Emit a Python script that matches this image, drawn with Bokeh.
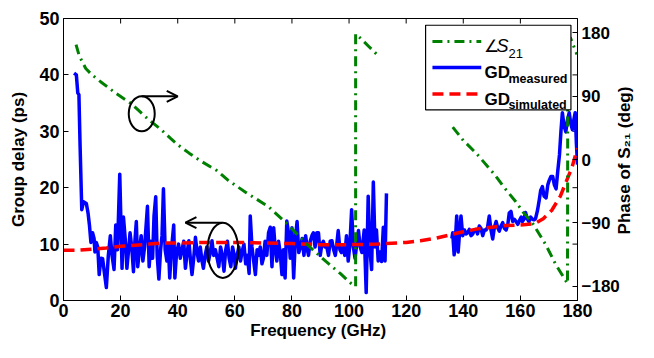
import math
from bokeh.plotting import figure
from bokeh.models import Range1d, LinearAxis, FixedTicker, Arrow, OpenHead
from bokeh.core.properties import value
from bokeh.embed import file_html
from bokeh.resources import INLINE

NaN = float("nan")

# ---------------- data ----------------
freq_meas = [3.7, 4.5, 5.0, 5.4, 5.8, 6.4, 7.0, 8.0, 8.6, 9.1, 9.6, 10.2, 10.7, 11.0, 11.5, 12.0, 12.5,
             13.1, 13.7, 14.3, 15.0, 15.7, 16.4, 17.0, 17.7, 18.3, 18.9, 19.7, 20.5, 21.0, 21.6, 22.2,
             22.8, 23.3, 23.9, 24.5, 25.0, 25.5, 26.0, 26.6, 27.2, 27.8, 28.4, 29.4, 30.0, 30.6, 31.2,
             31.7, 32.3, 32.8, 33.4, 34.0, 34.5, 35.0, 35.6, 36.2, 36.7, 37.2, 37.8, 38.6, 39.0, 39.6,
             40.3, 40.9, 41.5, 42.1, 42.7, 43.3, 43.9, 44.5, 45.0, 45.6, 46.2, 46.8, 47.3, 47.9, 48.5,
             49.0, 49.6, 50.2, 50.8, 51.4, 52.0, 52.6, 53.2, 53.8, 54.4, 55.0, 55.6, 56.2, 56.8, 57.4,
             58.0, 58.6, 59.2, 59.8, 60.2, 60.8, 61.4, 62.0, 62.5, 63.2, 63.8, 64.4, 65.0, 65.4, 66.0,
             66.6, 67.2, 67.8, 68.3, 68.9, 69.5, 70.0, 70.6, 71.2, 71.8, 72.4, 73.0, 73.6, 74.1, 74.7,
             75.3, 75.9, 76.5, 77.0, 77.6, 78.2, 78.8, 79.4, 80.0, 80.6, 81.2, 81.8, 82.4, 83.0, 83.6,
             84.2, 84.8, 85.4, 85.8, 86.4, 87.0, 87.5, 88.1, 88.7, 89.3, 89.9, 90.5, 91.0, 91.6, 92.2,
             92.8, 93.4, 94.0, 94.6, 95.2, 95.7, 96.2, 96.8, 97.3, 97.9, 98.5, 99.1, 99.7, 100.3, 100.9,
             101.5, 102.1, 102.7, 103.3, 103.9, 104.5, 105.3, 106.0, 106.7, 107.3, 107.9, 108.5, 109.1,
             109.6, 110.2, 110.8, 111.4, 112.0, 112.6, 113.1,
             NaN,
             136.0, 136.3, 136.8, 137.2, 137.7, 138.2, 138.7, 139.2, 139.8, 140.4, 141.0, 141.5, 142.1,
             142.7, 143.3, 143.9, 144.5, 145.0, 145.6, 146.2, 146.8, 147.4, 148.0, 148.5, 149.1, 149.7,
             150.3, 150.9, 151.5, 152.0, 152.6, 153.2, 153.8, 154.4, 155.0, 155.6, 156.1, 156.7, 157.3,
             157.9, 158.5, 159.1, 159.7, 160.3, 160.7, 161.3, 161.8, 162.4, 163.0, 163.6, 164.2, 164.8,
             165.3, 166.0, 166.6, 167.1, 167.7, 168.3, 169.0, 169.6, 170.1, 170.7, 171.3, 171.9, 172.5,
             173.1, 173.7, 174.2, 174.7, 175.3, 175.9, 176.5, 177.1, 177.6, 178.2, 178.7, 179.2, 179.6,
             180.0]
gd_meas = [40.3, 40.0, 36.8, 36.5, 27.6, 16.1, 17.5, 17.2, 15.5, 13.3, 10.3, 12.0, 11.0, 8.6, 10.3, 9.5, 4.6,
           7.5, 7.4, 5.0, 2.3, 8.0, 11.5, 8.0, 5.5, 13.4, 9.0, 22.4, 5.7, 14.8, 11.0, 5.7,
           9.0, 12.0, 9.5, 5.1, 10.5, 14.0, 6.0, 9.0, 11.5, 7.0, 9.5, 16.7, 6.0, 10.5, 7.5,
           15.0, 18.4, 8.0, 3.8, 9.0, 11.5, 19.8, 9.0, 7.0, 10.0, 4.0, 9.0, 13.4, 4.0, 8.5,
           10.0, 7.5, 9.0, 10.5, 5.7, 8.5, 10.6, 7.0, 4.6, 7.5, 11.2, 8.5, 7.0, 9.5, 7.0,
           5.7, 8.0, 9.5, 7.0, 8.5, 10.6, 8.0, 9.0, 7.5, 6.0, 9.5, 8.0, 5.2, 9.0, 10.5,
           7.5, 6.0, 9.5, 8.0, 5.7, 8.0, 9.5, 7.0, 8.6, 10.0, 6.5, 8.0, 4.8, 15.0, 9.5,
           7.0, 4.6, 9.0, 8.0, 9.5, 6.5, 7.5, 10.5, 8.0, 12.0, 13.0, 6.0, 12.9, 9.5, 7.0,
           10.5, 8.5, 4.6, 9.0, 4.0, 14.1, 12.0, 7.5, 12.9, 4.0, 11.0, 14.0, 8.5, 9.5, 11.0,
           8.0, 11.5, 9.0, 8.0, 10.5, 11.5, 12.0, 9.5, 12.0, 12.0, 8.0, 10.0, 10.5, 9.5, 9.5,
           8.0, 10.5, 10.6, 9.0, 8.0, 10.0, 12.4, 9.0, 8.5, 9.5, 8.0, 11.5, 7.0, 10.0, 16.1,
           9.5, 7.5, 10.0, 12.4, 9.5, 8.5, 12.5, 1.4, 18.5, 9.0, 5.5, 21.0, 9.5,
           12.5, 7.0, 8.6, 6.9, 13.0, 7.0, 19.0,
           NaN,
           11.0, 12.0, 8.1, 10.5, 15.0, 8.6, 12.0, 15.0, 11.5, 12.5, 11.8, 12.0, 12.6,
           11.5, 11.8, 12.5, 12.6, 11.8, 13.2, 12.8, 11.5, 12.5, 12.5, 13.0, 15.0, 12.5,
           10.9, 13.0, 14.0, 13.0, 12.3, 13.2, 13.8, 12.8, 12.5, 13.5, 15.5, 15.8, 14.0,
           14.4, 14.0, 13.5, 14.2, 14.8, 14.0, 14.5, 15.6, 14.5, 14.0, 14.8, 14.4, 14.3,
           14.5, 16.0, 17.8, 19.5, 20.2, 18.5, 18.2, 20.5, 21.3, 22.0, 22.0, 20.5, 19.8,
           23.0, 25.9, 30.0, 33.3, 31.0, 29.9, 32.0, 33.3, 31.5, 30.3, 32.0, 33.3, 28.0,
           24.1]

freq_sim = [0, 5, 10, 15, 20, 25, 30, 35, 40, 50, 60, 70, 80, 90, 100, 110, 120, 125, 130, 135, 140,
            145, 150, 155, 160, 165, 168, 171, 174, 176, 178, 180]
gd_sim = [8.9, 8.9, 9.1, 9.3, 9.6, 9.8, 10.0, 10.2, 10.2, 10.3, 10.3, 10.2, 10.1, 9.9, 9.9, 10.0, 10.3,
          10.6, 11.0, 11.6, 12.2, 12.7, 13.0, 13.3, 13.4, 13.6, 14.5, 16.0, 18.5, 21.0, 23.5, 27.0]

freq_phase = [4.4, 5.5, 7.8, 10.0, 13.1, 18.3, 23.5, 29.4, 34.0, 37.5, 40.0, 44.0, 48.0, 53.8, 57.8,
              64.0, 71.8, 78.0, 85.7, 92.0, 97.0, 101.3, 102.3, 102.3, 104.0, 107.0, 110.0,
              NaN,
              136.3, 140.0, 144.5, 150.9, 154.0, 158.4, 161.0, 164.2, 168.9, 172.4, 175.3, 176.5,
              176.6, 177.6, 179.8]
phase_s21 = [163, 147, 129, 120, 110, 94, 80, 58, 43, 30, 21, 9, -2, -16, -30,
             -47, -67, -90, -122, -145, -162, -178, -180, 178, 172, 160, 148,
             NaN,
             46, 27, 9, -21, -38, -60, -75, -90, -121, -149, -168, -176,
             176, 172, 149]

x_ticks = [0, 20, 40, 60, 80, 100, 120, 140, 160, 180]
gd_ticks = [0, 10, 20, 30, 40, 50]
phase_ticks = [-180, -90, 0, 90, 180]

# annotation marks (ellipses + arrows): centre x, centre y, width, height
ell_x = [27.4, 55.8]
ell_y = [33.1, 8.9]
ell_w = [9.1, 10.8]
ell_h = [6.2, 9.8]

# ---------------- styles ----------------
FONT = "Liberation Sans"
GREEN = "#008000"
BLUE = "#0000ff"
RED = "#ff0000"

p = figure(width=646, height=342, output_backend="svg", toolbar_location=None,
           x_range=Range1d(0, 180), y_range=Range1d(0, 50),
           min_border_left=63, min_border_right=67, min_border_top=18, min_border_bottom=41)
p.extra_y_ranges = {"phase": Range1d(-200, 200)}
p.xgrid.visible = False
p.ygrid.visible = False
p.outline_line_color = "black"
p.outline_line_width = 1
p.background_fill_color = "white"
p.border_fill_color = "white"

def style_axis(ax, size="18px"):
    ax.major_tick_in = 5
    ax.major_tick_out = 0
    ax.minor_tick_in = 0
    ax.minor_tick_out = 0
    ax.axis_line_color = "black"
    ax.major_tick_line_color = "black"
    ax.major_label_text_font = FONT
    ax.major_label_text_font_style = "bold"
    ax.major_label_text_font_size = size
    ax.major_label_text_color = "black"
    ax.axis_label_text_font = FONT
    ax.axis_label_text_font_style = "bold"
    ax.axis_label_text_font_size = "17px"
    ax.axis_label_text_color = "black"

p.xaxis.ticker = FixedTicker(ticks=x_ticks)
p.yaxis.ticker = FixedTicker(ticks=gd_ticks)
style_axis(p.xaxis[0])
style_axis(p.yaxis[0])
p.xaxis.axis_label = "Frequency  (GHz)"
p.yaxis.axis_label = "Group delay (ps)"
p.xaxis.major_label_standoff = 3
p.xaxis.axis_label_standoff = 1
p.yaxis.major_label_standoff = 4
p.yaxis.axis_label_standoff = 8

# right-hand title reads bottom to top; with a rotated label Bokeh starts the text at
# the anchor, so anchor it at the bottom of the axis and lead in with no-break spaces
RIGHT_TITLE = "Phase of S\u2082\u2081 (deg)"
right = LinearAxis(y_range_name="phase", ticker=FixedTicker(ticks=phase_ticks))
style_axis(right, "17px")
right.major_label_standoff = 4
right.axis_label_standoff = 2
try:
    right.axis_label_orientation = math.pi / 2
    right.axis_label_align = "start"
    right.axis_label = "\u00a0" * 14 + RIGHT_TITLE
except Exception:
    right.axis_label = RIGHT_TITLE
p.add_layout(right, "right")

# inward ticks on the top edge and mirrored left-axis ticks on the right edge
p.ray(x=x_ticks, y=[50] * len(x_ticks), length=5, length_units="screen", angle=-math.pi / 2,
      line_color="black", line_width=1)
p.ray(x=[180] * 4, y=gd_ticks[1:5], length=5, length_units="screen", angle=math.pi,
      line_color="black", line_width=1)

# ---------------- data lines ----------------
p.line(freq_meas, gd_meas, line_color=BLUE, line_width=3.5, line_join="round")
p.line(freq_sim, gd_sim, line_color=RED, line_width=3.5, line_dash="11 6")
p.line(freq_phase, phase_s21, y_range_name="phase", line_color=GREEN, line_width=3,
       line_dash="10 5 2 5")

# ---------------- annotations ----------------
p.ellipse(ell_x, ell_y, width=ell_w, height=ell_h, fill_color=None, line_color="black", line_width=2)
p.add_layout(Arrow(end=OpenHead(size=11, line_width=2, line_color="black"),
                   x_start=27.4, y_start=36.2, x_end=40.0, y_end=36.2,
                   line_width=2, line_color="black"))
p.add_layout(Arrow(end=OpenHead(size=11, line_width=2, line_color="black"),
                   x_start=55.6, y_start=13.8, x_end=42.7, y_end=13.8,
                   line_width=2, line_color="black"))

# ---------------- legend (drawn by hand) ----------------
p.quad(left=[126.8], right=[177.7], bottom=[33.8], top=[48.8], fill_color="white",
       line_color="black", line_width=1.2)
p.line([129.2, 146.3], [45.9, 45.9], line_color=GREEN, line_width=3, line_dash="10 5 2 5")
p.line([129.2, 146.3], [41.3, 41.3], line_color=BLUE, line_width=3.5)
p.line([129.2, 146.3], [36.6, 36.6], line_color=RED, line_width=3.5, line_dash="11 6")

def txt(x, y, s, size, style="bold", dx=0, dy=0):
    p.text([x], [y], text=[s], text_font=value(FONT), text_font_size=size, text_font_style=style,
           text_color="black", text_baseline="alphabetic", text_align="left", x_offset=dx, y_offset=dy)

txt(147.4, 45.1, "\u2220", "17px", "normal")
txt(147.4, 45.1, "S", "18px", "italic", dx=12)
txt(147.4, 45.1, "21", "13px", "normal", dx=24, dy=7)
txt(147.4, 40.5, "GD", "17px", dx=0)
txt(147.4, 40.5, "measured", "12.5px", dx=24, dy=7)
txt(147.4, 35.7, "GD", "17px", dx=0)
txt(147.4, 35.7, "simulated", "12.5px", dx=24, dy=6)

open("out.html", "w").write(file_html(p, INLINE))
